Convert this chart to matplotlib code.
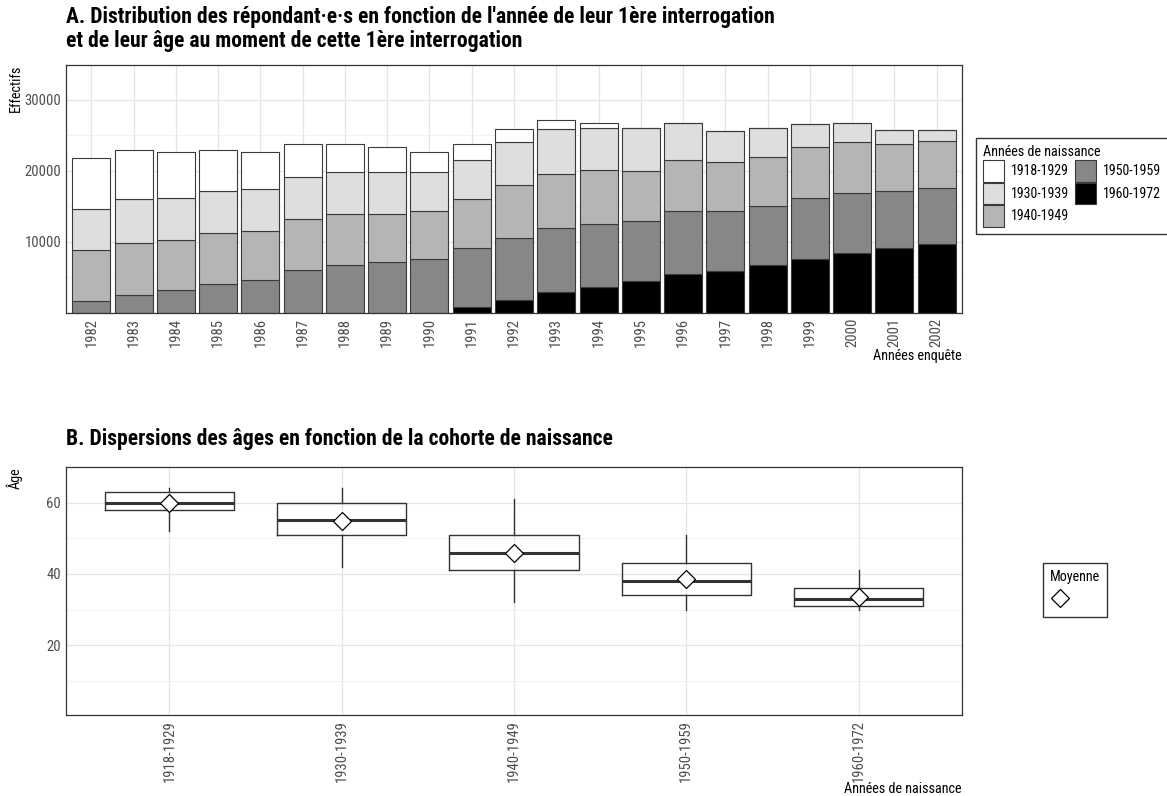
import matplotlib
matplotlib.use("Agg")
import matplotlib.pyplot as plt
import matplotlib.patches as mpatches
from matplotlib.lines import Line2D
from matplotlib import font_manager
import numpy as np

# fonte condensée si dispo
names = {f.name for f in font_manager.fontManager.ttflist}
fam = [f for f in ["Roboto Condensed", "Liberation Sans Narrow", "Liberation Sans"] if f in names] + ["DejaVu Sans"]
plt.rcParams["font.family"] = fam

## Données panneau A
annees = [str(a) for a in range(1982, 2003)]
cohortes = ["1918-1929", "1930-1939", "1940-1949", "1950-1959", "1960-1972"]
coh_1918 = [7100, 7000, 6400, 5800, 5300, 4700, 3950, 3500, 2800, 2250, 1860,
            1200, 700, 0, 0, 0, 0, 0, 0, 0, 0]
coh_1930 = [5800, 6100, 5900, 6000, 5900, 5900, 5900, 5800, 5600, 5500, 6100,
            6300, 6000, 5950, 5200, 4300, 4100, 3300, 2700, 2000, 1600]
coh_1940 = [7200, 7300, 7100, 7100, 6800, 7200, 7200, 6800, 6700, 6900, 7400,
            7700, 7600, 7050, 7200, 7000, 6800, 7100, 7050, 6700, 6550]
coh_1950 = [1700, 2600, 3200, 4100, 4700, 6000, 6800, 7200, 7600, 8300, 8800,
            9000, 8800, 8500, 8800, 8400, 8400, 8550, 8550, 7950, 7950]
coh_1960 = [0, 0, 0, 0, 0, 0, 0, 0, 0, 900, 1800,
            2900, 3700, 4500, 5500, 5900, 6700, 7650, 8400, 9150, 9700]
fill_cols = ["#FFFFFF", "#DEDEDE", "#B5B5B5", "#878787", "#000000"]

## Données panneau B (stats des boîtes)
q1 = [58, 51, 41, 34, 31]
mediane = [60, 55, 46, 38, 33]
q3 = [63, 60, 51, 43, 36]
w_bas = [52, 42, 32, 30, 30]
w_haut = [64, 64, 61, 51, 41]
moyenne = [59.8, 54.9, 46, 38.7, 33.6]

W, H = 1167, 796
fig = plt.figure(figsize=(W / 100, H / 100), dpi=100)

def style_axes(ax):
    for s in ax.spines.values():
        s.set_color("#333333")
        s.set_linewidth(0.9)
    ax.tick_params(length=0, colors="#4D4D4D", labelsize=10.5)
    ax.set_axisbelow(True)
    ax.grid(which="major", color="#E5E5E5", linewidth=0.9)
    ax.grid(which="minor", axis="y", color="#F0F0F0", linewidth=0.6)

# ---- Panneau A
axA = fig.add_axes([66 / W, 1 - 313 / H, 896 / W, 248 / H])
x = np.arange(len(annees))
series = [coh_1960, coh_1950, coh_1940, coh_1930, coh_1918]
cols = fill_cols[::-1]
bottom = np.zeros(len(annees))
for vals, c in zip(series, cols):
    vals = np.array(vals)
    axA.bar(x, vals, 0.9, bottom=bottom, color=c, edgecolor="#3A3A3A", linewidth=0.8)
    bottom += vals
axA.set_xlim(-0.6, len(annees) - 0.4)
axA.set_ylim(0, 34900)
axA.set_yticks([10000, 20000, 30000])
axA.set_yticks([5000, 15000, 25000], minor=True)
axA.tick_params(axis="y", which="minor", length=0)
axA.set_xticks(x)
axA.set_xticklabels(annees, rotation=90)
style_axes(axA)
axA.set_ylabel("Effectifs", fontsize=10.2, loc="top")
axA.yaxis.set_label_coords(-0.048, 1.0)
axA.set_xlabel("Années enquête", fontsize=10.2, loc="right", labelpad=1)
fig.text(66 / W, 1 - 6 / H, "A. Distribution des répondant·e·s en fonction de l'année de leur 1ère interrogation\n"
         "et de leur âge au moment de cette 1ère interrogation",
         fontsize=15.6, fontweight="bold", va="top", ha="left", linespacing=1.1)

handles = [mpatches.Patch(facecolor=c, edgecolor="#3A3A3A", linewidth=0.8) for c in fill_cols]
legA = fig.legend(handles, cohortes, ncol=2, loc="upper left",
                  bbox_to_anchor=(976 / W, 1 - 138 / H), borderaxespad=0,
                  title="Années de naissance",
                  fontsize=10, title_fontsize=10.2, frameon=True, fancybox=False,
                  handlelength=1.5, handleheight=2.0, labelspacing=0.08,
                  columnspacing=0.45, handletextpad=0.5, borderpad=0.5)
legA._legend_box.align = "left"
legA.get_frame().set_edgecolor("black")
legA.get_frame().set_linewidth(1.0)

# ---- Panneau B
axB = fig.add_axes([66 / W, 1 - 715 / H, 896 / W, 248 / H])
stats = []
for i, c in enumerate(cohortes):
    stats.append({"label": c, "q1": q1[i], "med": mediane[i], "q3": q3[i],
                  "whislo": w_bas[i], "whishi": w_haut[i], "fliers": []})
pos = np.arange(len(cohortes))
axB.bxp(stats, positions=pos, widths=0.75, showcaps=False,
        boxprops=dict(color="#333333", linewidth=1.0),
        medianprops=dict(color="#333333", linewidth=2.2),
        whiskerprops=dict(color="#333333", linewidth=1.0))
axB.plot(pos, moyenne, linestyle="none", marker="D", markersize=9,
         markerfacecolor="white", markeredgecolor="black", markeredgewidth=0.9, zorder=5)
axB.set_xlim(-0.6, len(cohortes) - 0.4)
axB.set_ylim(0.4, 70)
axB.set_yticks([20, 40, 60])
axB.set_yticks([10, 30, 50], minor=True)
axB.tick_params(axis="y", which="minor", length=0)
axB.set_xticks(pos)
axB.set_xticklabels(cohortes, rotation=90)
style_axes(axB)
axB.set_ylabel("Âge", fontsize=10.2, loc="top")
axB.yaxis.set_label_coords(-0.048, 1.0)
axB.set_xlabel("Années de naissance", fontsize=10.2, loc="right", labelpad=0)
fig.text(66 / W, 1 - 428 / H, "B. Dispersions des âges en fonction de la cohorte de naissance",
         fontsize=15.6, fontweight="bold", va="top", ha="left")

mh = Line2D([], [], linestyle="none", marker="D", markersize=9,
            markerfacecolor="white", markeredgecolor="black", markeredgewidth=0.9)
legB = fig.legend([mh], [""], loc="upper left", bbox_to_anchor=(1043 / W, 1 - 563 / H),
                  borderaxespad=0, title="Moyenne", fontsize=10, title_fontsize=10.2,
                  frameon=True, fancybox=False, handlelength=1.5, handleheight=1.7,
                  handletextpad=0.0, borderpad=0.5)
legB._legend_box.align = "left"
legB.get_frame().set_edgecolor("black")
legB.get_frame().set_linewidth(1.0)

fig.savefig("out.png", dpi=100)
